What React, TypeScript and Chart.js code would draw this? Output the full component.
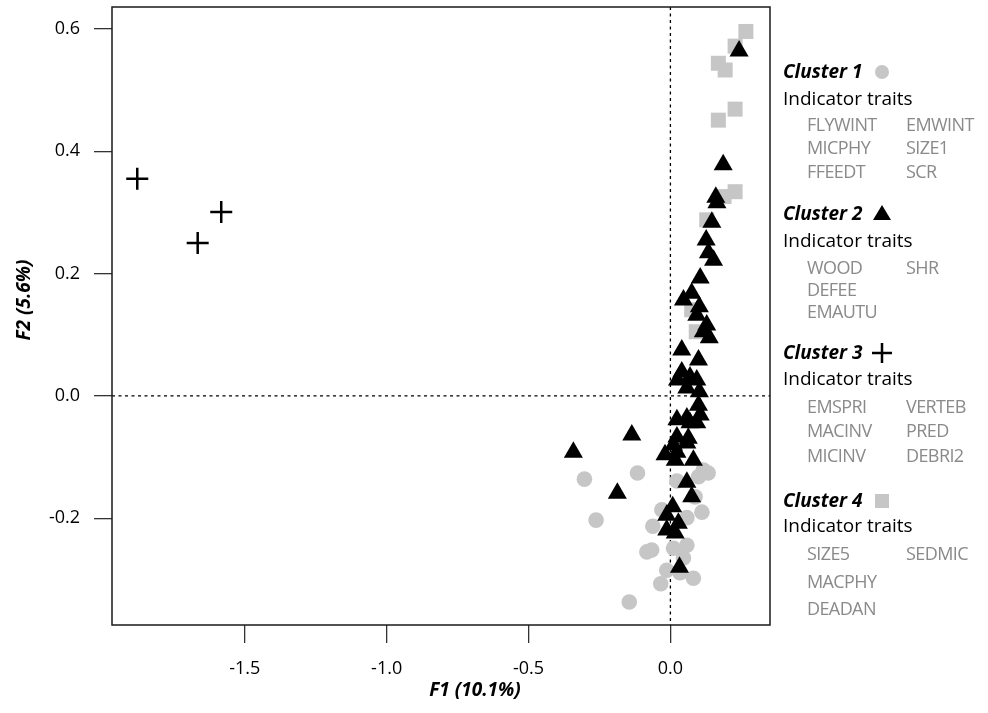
import React, { useEffect, useRef } from "react";
import { Chart, registerables } from "chart.js";

Chart.register(...registerables);

// ---- data ----
const xTicks = [-1.5, -1.0, -0.5, 0.0];
const yTicks = [-0.2, 0.0, 0.2, 0.4, 0.6];

const cluster1X = [-0.303, -0.116, 0.116, 0.133, 0.099, 0.023, -0.262, 0.087, -0.03, 0.111, 0.058, -0.062, -0.083, -0.066, 0.011, 0.058, 0.046, -0.013, 0.034, 0.081, -0.034, -0.145];
const cluster1Y = [-0.136, -0.126, -0.121, -0.126, -0.132, -0.139, -0.203, -0.165, -0.186, -0.19, -0.199, -0.213, -0.255, -0.252, -0.249, -0.244, -0.265, -0.285, -0.289, -0.298, -0.307, -0.337];

const cluster2X = [0.242, 0.186, 0.16, 0.164, 0.146, 0.126, 0.134, 0.152, 0.105, 0.075, 0.046, 0.102, 0.093, 0.128, 0.116, 0.137, 0.04, 0.099, 0.04, 0.069, 0.093, 0.025, 0.058, 0.102, 0.099, 0.105, 0.023, 0.058, 0.093, 0.069, -0.136, -0.342, 0.023, 0.063, 0.011, 0.058, -0.019, 0.023, 0.017, 0.081, 0.058, 0.075, -0.187, 0.008, -0.013, 0.028, -0.013, 0.017, 0.032];
const cluster2Y = [0.564, 0.378, 0.325, 0.316, 0.284, 0.255, 0.234, 0.222, 0.193, 0.168, 0.157, 0.146, 0.132, 0.116, 0.105, 0.095, 0.075, 0.059, 0.039, 0.031, 0.026, 0.026, 0.013, 0.007, -0.015, -0.031, -0.039, -0.036, -0.044, -0.044, -0.064, -0.092, -0.067, -0.069, -0.08, -0.077, -0.096, -0.092, -0.105, -0.105, -0.141, -0.165, -0.159, -0.181, -0.195, -0.208, -0.219, -0.224, -0.28];

const cluster3X = [-1.879, -1.583, -1.666];
const cluster3Y = [0.355, 0.301, 0.25];

const cluster4X = [0.266, 0.228, 0.169, 0.193, 0.228, 0.169, 0.228, 0.189, 0.128, 0.075, 0.091];
const cluster4Y = [0.596, 0.572, 0.544, 0.533, 0.469, 0.451, 0.334, 0.326, 0.288, 0.141, 0.105];

const xTitle = "F1 (10.1%)";
const yTitle = "F2 (5.6%)";

const clusterLabels = ["Cluster 1", "Cluster 2", "Cluster 3", "Cluster 4"];
const indicatorLabel = "Indicator traits";
const cluster1Traits = [["FLYWINT", "EMWINT"], ["MICPHY", "SIZE1"], ["FFEEDT", "SCR"]];
const cluster2Traits = [["WOOD", "SHR"], ["DEFEE"], ["EMAUTU"]];
const cluster3Traits = [["EMSPRI", "VERTEB"], ["MACINV", "PRED"], ["MICINV", "DEBRI2"]];
const cluster4Traits = [["SIZE5", "SEDMIC"], ["MACPHY"], ["DEADAN"]];

const GRAY = "#c6c6c6";
const FONT = "'Open Sans', 'Noto Sans', sans-serif";

const toPoints = (xs: number[], ys: number[]) => xs.map((x, i) => ({ x, y: ys[i] }));

const legendLayout = [
  { title: 78, ind: 105, rows: [131, 154, 178], sym: "circle" },
  { title: 220, ind: 247, rows: [274, 296, 318], sym: "triangle" },
  { title: 359, ind: 385, rows: [413, 437, 462], sym: "cross" },
  { title: 507, ind: 532, rows: [560, 588, 615], sym: "square" },
];

const overlayPlugin = {
  id: "overlay",
  beforeDatasetsDraw(chart: any) {
    const { ctx, chartArea: a, scales } = chart;
    const x0 = scales.x.getPixelForValue(0);
    const y0 = scales.y.getPixelForValue(0);
    ctx.save();
    ctx.strokeStyle = "#000";
    ctx.lineWidth = 1.3;
    ctx.setLineDash([3, 3.5]);
    ctx.beginPath();
    ctx.moveTo(x0, a.top);
    ctx.lineTo(x0, a.bottom);
    ctx.moveTo(a.left, y0);
    ctx.lineTo(a.right, y0);
    ctx.stroke();
    ctx.restore();
  },
  afterDraw(chart: any) {
    const { ctx, chartArea: a } = chart;
    ctx.save();
    // box
    ctx.strokeStyle = "#1a1a1a";
    ctx.lineWidth = 1.5;
    ctx.strokeRect(a.left, a.top, a.right - a.left, a.bottom - a.top);

    // axis titles
    ctx.fillStyle = "#000";
    ctx.font = `italic bold 19px ${FONT}`;
    ctx.textAlign = "center";
    ctx.textBaseline = "middle";
    ctx.fillText(xTitle, 475, 691);
    ctx.translate(25, 300);
    ctx.rotate(-Math.PI / 2);
    ctx.fillText(yTitle, 0, 0);
    ctx.setTransform(chart.currentDevicePixelRatio, 0, 0, chart.currentDevicePixelRatio, 0, 0);

    // legend
    const traits = [cluster1Traits, cluster2Traits, cluster3Traits, cluster4Traits];
    ctx.textAlign = "left";
    ctx.textBaseline = "alphabetic";
    legendLayout.forEach((L, i) => {
      ctx.fillStyle = "#000";
      ctx.font = `italic bold 19px ${FONT}`;
      ctx.fillText(clusterLabels[i], 783, L.title);
      ctx.font = `19px ${FONT}`;
      ctx.fillText(indicatorLabel, 783, L.ind);
      ctx.font = `18px ${FONT}`;
      ctx.fillStyle = "#8a8a8a";
      (ctx as any).letterSpacing = "-0.6px";
      traits[i].forEach((row, r) => {
        row.forEach((t, c) => {
          ctx.fillText(t, c === 0 ? 807 : 906, L.rows[r]);
        });
      });
      (ctx as any).letterSpacing = "0px";
      const sx = 882;
      const sy = L.title - 6;
      if (L.sym === "circle") {
        ctx.fillStyle = GRAY;
        ctx.beginPath();
        ctx.arc(sx, sy, 7, 0, Math.PI * 2);
        ctx.fill();
      } else if (L.sym === "triangle") {
        ctx.fillStyle = "#000";
        ctx.beginPath();
        ctx.moveTo(sx, sy - 9);
        ctx.lineTo(sx + 9, sy + 6);
        ctx.lineTo(sx - 9, sy + 6);
        ctx.closePath();
        ctx.fill();
      } else if (L.sym === "cross") {
        ctx.strokeStyle = "#000";
        ctx.lineWidth = 2.5;
        ctx.beginPath();
        ctx.moveTo(sx - 10, sy);
        ctx.lineTo(sx + 10, sy);
        ctx.moveTo(sx, sy - 10);
        ctx.lineTo(sx, sy + 10);
        ctx.stroke();
      } else {
        ctx.fillStyle = GRAY;
        ctx.fillRect(sx - 7, sy - 7, 14, 14);
      }
    });
    ctx.restore();
  },
};

export default function App() {
  const ref = useRef<HTMLCanvasElement | null>(null);

  useEffect(() => {
    document.body.style.margin = "0";
    if (!ref.current) return;
    Chart.defaults.font.family = FONT;
    const chart = new Chart(ref.current, {
      type: "scatter",
      data: {
        datasets: [
          {
            label: clusterLabels[1],
            data: toPoints(cluster2X, cluster2Y),
            pointStyle: "triangle",
            pointRadius: 11,
            backgroundColor: "#000",
            borderColor: "#000",
            borderWidth: 0,
          },
          {
            label: clusterLabels[2],
            data: toPoints(cluster3X, cluster3Y),
            pointStyle: "cross",
            pointRadius: 11,
            backgroundColor: "#000",
            borderColor: "#000",
            borderWidth: 2.5,
          },
          {
            label: clusterLabels[3],
            data: toPoints(cluster4X, cluster4Y),
            pointStyle: "rect",
            pointRadius: 10.6,
            backgroundColor: GRAY,
            borderColor: GRAY,
            borderWidth: 0,
          },
          {
            label: clusterLabels[0],
            data: toPoints(cluster1X, cluster1Y),
            pointStyle: "circle",
            pointRadius: 7.8,
            backgroundColor: GRAY,
            borderColor: GRAY,
            borderWidth: 0,
          },
        ],
      },
      options: {
        animation: false,
        responsive: false,
        events: [],
        layout: { autoPadding: false, padding: { left: 0, top: 7, right: 218, bottom: 0 } },
        plugins: { legend: { display: false }, tooltip: { enabled: false }, title: { display: false } },
        scales: {
          x: {
            type: "linear",
            min: -1.968,
            max: 0.351,
            afterBuildTicks: (s: any) => {
              s.ticks = xTicks.map((v) => ({ value: v }));
            },
            afterFit: (s: any) => {
              s.height = 88;
              s.paddingLeft = 0;
              s.paddingRight = 0;
              s.paddingTop = 0;
              s.paddingBottom = 0;
            },
            ticks: {
              callback: (v: any) => Number(v).toFixed(1),
              font: { size: 18, family: FONT },
              color: "#000",
              padding: 15,
              maxRotation: 0,
              autoSkip: false,
            },
            grid: { drawOnChartArea: false, drawTicks: true, tickLength: 18, color: "#333", lineWidth: 1.3 },
            border: { display: false },
            title: { display: false },
          },
          y: {
            type: "linear",
            min: -0.3745,
            max: 0.636,
            afterBuildTicks: (s: any) => {
              s.ticks = yTicks.map((v) => ({ value: v }));
            },
            afterFit: (s: any) => {
              s.width = 112;
              s.paddingLeft = 0;
              s.paddingRight = 0;
              s.paddingTop = 0;
              s.paddingBottom = 0;
            },
            ticks: {
              callback: (v: any) => Number(v).toFixed(1),
              font: { size: 18, family: FONT },
              color: "#000",
              padding: 14,
              autoSkip: false,
            },
            grid: { drawOnChartArea: false, drawTicks: true, tickLength: 18, color: "#333", lineWidth: 1.3 },
            border: { display: false },
            title: { display: false },
          },
        },
      },
      plugins: [overlayPlugin],
    });
    return () => chart.destroy();
  }, []);

  return (
    <div style={{ width: 988, height: 713, position: "relative", background: "#fff" }}>
      <canvas ref={ref} width={988} height={713} style={{ display: "block" }} />
    </div>
  );
}
